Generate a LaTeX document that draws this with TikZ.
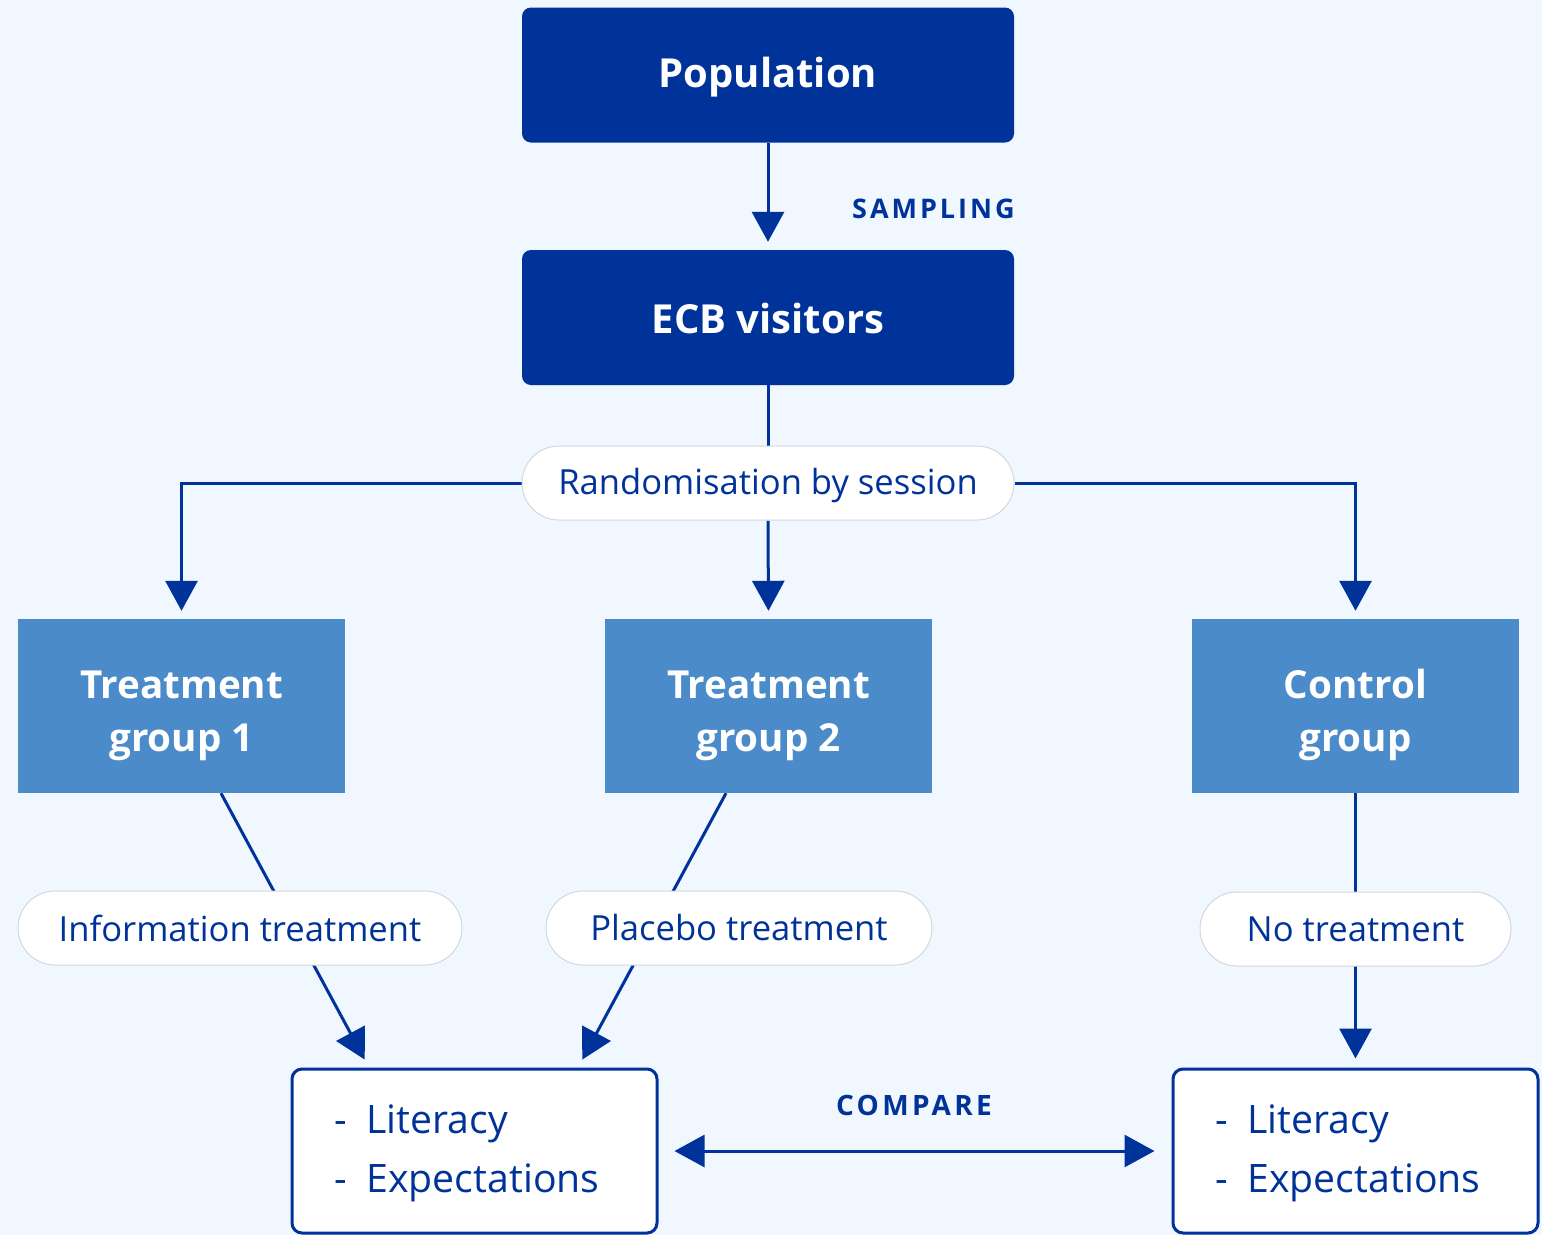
\documentclass[tikz,border=0pt]{standalone}
\usepackage{fontspec}
\setmainfont{Open Sans}
\usetikzlibrary{arrows.meta,calc}
\definecolor{dkblue}{HTML}{003399}
\definecolor{mdblue}{HTML}{4C8BCA}
\definecolor{bgblue}{HTML}{F0F7FE}
\definecolor{pillgray}{HTML}{D3D8E0}
\pgfdeclarelayer{bglayer}
\pgfdeclarelayer{linelayer}
\pgfsetlayers{bglayer,linelayer,main}
\tikzset{
  darkbox/.style={fill=dkblue, draw=none, rounded corners=9pt, text=white,
    font=\fontsize{40pt}{49pt}\selectfont\bfseries, minimum width=492pt, minimum height=135pt, inner sep=0pt},
  groupbox/.style={fill=mdblue, draw=none, text=white,
    font=\fontsize{38.6pt}{53pt}\selectfont\bfseries, minimum width=327pt, minimum height=174pt, inner sep=0pt},
  pill/.style={fill=white, draw=pillgray, line width=1pt, rounded corners=37pt, text=dkblue,
    font=\fontsize{34.6pt}{41pt}\selectfont, minimum height=74pt, inner sep=0pt},
  outbox/.style={fill=white, draw=dkblue, line width=3pt, rounded corners=10pt, text=dkblue,
    font=\fontsize{39.2pt}{59pt}\selectfont, minimum width=365pt, minimum height=164pt,
    inner xsep=42pt, text width=281pt, align=left},
  conn/.style={draw=dkblue, line width=3pt},
  arr/.style={conn, -{Triangle[length=30pt,width=32pt]}},
  biarr/.style={conn, {Triangle[length=30pt,width=32pt]}-{Triangle[length=30pt,width=32pt]}},
  steplabel/.style={text=dkblue, inner sep=0pt},
}
\newcommand{\outlist}{\begin{tabular}{@{}l@{\hspace{20pt}}l@{}}-&Literacy\\-&Expectations\end{tabular}}
\newcommand{\lowered}[2]{\raisebox{#1}[\height][\depth]{#2}}
\newcommand{\grp}[1]{\lowered{-8pt}{\begin{tabular}{@{}c@{}}#1\end{tabular}}}
\begin{document}
\begin{tikzpicture}[x=1pt,y=-1pt]
\useasboundingbox (0,0) rectangle (1542,1235);
\begin{pgfonlayer}{bglayer}
\fill[bgblue] (0,0) rectangle (1542,1235);
\end{pgfonlayer}
% nodes
\node[darkbox] (pop) at (768,75) {\lowered{-2.5pt}{Population}};
\node[darkbox] (ecb) at (768,317.5) {\lowered{-1pt}{ECB visitors}};
\node[pill, minimum width=492pt] (rand) at (768,483) {\lowered{-2.5pt}{Randomisation by session}};
\node[groupbox] (tg1) at (181.5,706) {\grp{Treatment\\group 1}};
\node[groupbox] (tg2) at (768.5,706) {\grp{Treatment\\group 2}};
\node[groupbox] (ctrl) at (1355.5,706) {\grp{Control\\group}};
\node[pill, minimum width=444pt] (info) at (240,928) {Information treatment};
\node[pill, minimum width=386pt] (plac) at (739,928) {Placebo treatment};
\node[pill, minimum width=311pt] (none) at (1355.5,929) {No treatment};
\node[outbox] (out1) at (474.5,1151) {\outlist};
\node[outbox] (out2) at (1355.5,1151) {\outlist};
\node[steplabel, anchor=west, font=\fontsize{27pt}{32pt}\selectfont\bfseries\addfontfeatures{LetterSpace=11}] (samp) at (852,209) {SAMPLING};
\node[steplabel, font=\fontsize{28pt}{32pt}\selectfont\bfseries\addfontfeatures{LetterSpace=12}] (comp) at (914,1105) {COMPARE};
% connectors
\begin{pgfonlayer}{linelayer}
\draw[arr, shorten >=8pt] (pop.south) -- (ecb.north);
\draw[conn] (ecb.south) -- (rand.north);
\draw[arr, shorten >=8pt] (rand.west) -| (tg1.north);
\draw[arr, shorten >=8pt] (rand.south) -- (tg2.north);
\draw[arr, shorten >=8pt] (rand.east) -| (ctrl.north);
\draw[arr, shorten >=9pt] ($(tg1.south)+(39.5,0)$) -- ($(out1.north)+(-105.5,0)$);
\draw[arr, shorten >=9pt] ($(tg2.south)+(-42.5,0)$) -- ($(out1.north)+(103.5,0)$);
\draw[arr, shorten >=9pt] (ctrl.south) -- (out2.north);
\draw[biarr, shorten <=16pt, shorten >=17pt] (out1.east) -- (out2.west);
\end{pgfonlayer}
\end{tikzpicture}
\end{document}
